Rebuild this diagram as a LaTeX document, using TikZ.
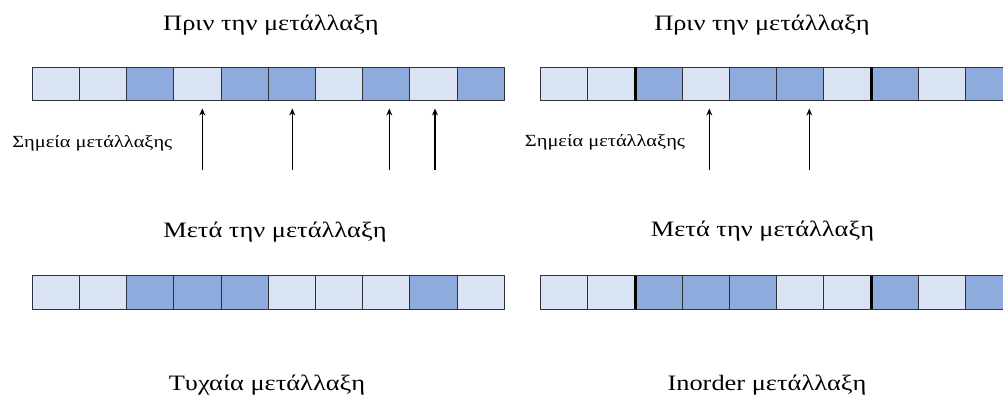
\documentclass[tikz,border=0pt]{standalone}
\usepackage{fontspec}
\setmainfont{Liberation Serif}
\usetikzlibrary{arrows.meta}
\definecolor{cellL}{HTML}{DAE3F3}
\definecolor{cellD}{HTML}{8FAADC}
\definecolor{cellB}{HTML}{2F3236}
\newcommand{\wide}[1]{\scalebox{1.2}[1]{#1}}
\tikzset{
  cell/.style={draw=cellB, line width=1.1pt, minimum width=47.2pt, minimum height=33.4pt, inner sep=0pt, outer sep=0pt},
  lt/.style={cell, fill=cellL},
  dk/.style={cell, fill=cellD},
  title/.style={font=\fontsize{22}{24}\selectfont, inner sep=0pt, anchor=base},
  pointlabel/.style={font=\fontsize{17}{19}\selectfont, inner sep=0pt, anchor=base},
  ptr/.style={-{Stealth[length=7pt,width=6pt]}, line width=1.1pt, black},
  sep/.style={line width=3pt, black}
}
\begin{document}
\begin{tikzpicture}[x=1pt,y=-1pt]
\useasboundingbox (0,0) rectangle (1003,398);
\clip (0,0) rectangle (1003,398);
% arrays: name/left x/center y/pattern
\foreach \nm/\x/\y/\pat in {A/32.3/84/{L,L,D,L,D,D,L,D,L,D},
                             B/32.3/292.5/{L,L,D,D,D,L,L,L,D,L},
                             C/540.7/84/{L,L,D,L,D,D,L,D,L,D},
                             E/540.7/292.5/{L,L,D,D,D,L,L,D,L,D}}{
  \foreach \c [count=\i] in \pat {
    \if\c L\def\st{lt}\else\def\st{dk}\fi
    \node[\st] (\nm\i) at ({\x+(\i-0.5)*47.2},\y) {};
  }
}
% thick separators (inorder)
\foreach \nm in {C,E}{
  \draw[sep] (\nm2.north east) -- (\nm2.south east);
  \draw[sep] (\nm7.north east) -- (\nm7.south east);
}
% titles
\node[title] (t1) at (271,31) {\wide{Πριν την μετάλλαξη}};
\node[title] (t2) at (762,31) {\wide{Πριν την μετάλλαξη}};
\node[title] (t3) at (275,237.3) {\wide{Μετά την μετάλλαξη}};
\node[title] (t4) at (762.5,236.7) {\wide{Μετά την μετάλλαξη}};
\node[title] (t5) at (267,390.7) {\wide{Τυχαία μετάλλαξη}};
\node[title] (t6) at (767,390.5) {\wide{Inorder μετάλλαξη}};
% mutation point labels
\node[pointlabel] (p1) at (92.3,147.3) {\wide{Σημεία μετάλλαξης}};
\node[pointlabel] (p2) at (605,147) {\wide{Σημεία μετάλλαξης}};
% arrows
\foreach \n/\x in {a/202.3,b/292.3,c/389.3,d/435,e/709.3,f/809.3}{
  \coordinate (\n0) at (\x,170);
  \coordinate (\n1) at (\x,108.5);
  \draw[ptr] (\n0) -- (\n1);
}
\end{tikzpicture}
\end{document}
